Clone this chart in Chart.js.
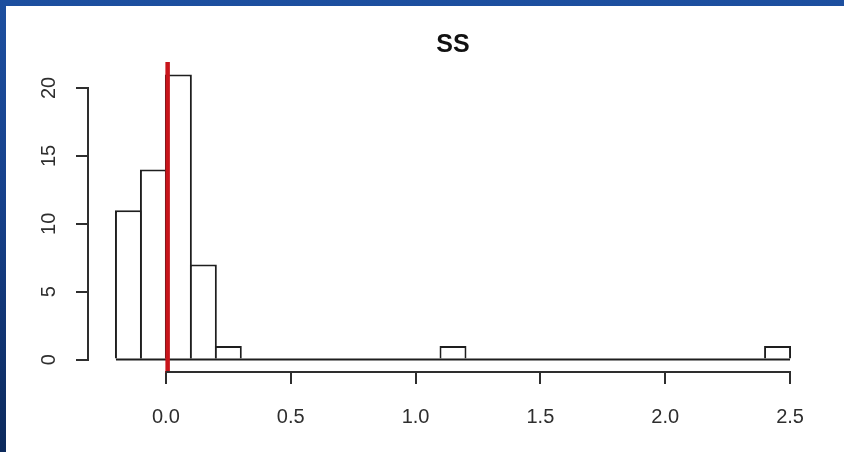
<!DOCTYPE html>
<html>
<head>
<meta charset="utf-8">
<title>SS</title>
<script src="https://cdn.jsdelivr.net/npm/chart.js@4.4.1/dist/chart.umd.min.js"></script>
<style>
  html, body { margin: 0; padding: 0; }
  body {
    width: 844px; height: 452px; overflow: hidden; position: relative;
    background: linear-gradient(to bottom, #1d4f9f 0%, #16408a 45%, #0c2a5c 100%);
  }
  #panel { position: absolute; left: 6px; top: 6px; width: 838px; height: 446px; background: #fff; }
</style>
</head>
<body>
<div id="panel"><canvas id="histChart"></canvas></div>
<script>
// histogram data
const binEdges = [-0.2, -0.1, 0.0, 0.1, 0.2, 0.3, 0.4, 0.5, 0.6, 0.7, 0.8, 0.9, 1.0, 1.1,
                  1.2, 1.3, 1.4, 1.5, 1.6, 1.7, 1.8, 1.9, 2.0, 2.1, 2.2, 2.3, 2.4, 2.5];
const binCounts = [11, 14, 21, 7, 1, 0, 0, 0, 0, 0, 0, 0, 0, 1,
                   0, 0, 0, 0, 0, 0, 0, 0, 0, 0, 0, 0, 1];
const xTickValues = [0, 0.5, 1.0, 1.5, 2.0, 2.5];
const yTickValues = [0, 5, 10, 15, 20];
const refLineValues = [0.007];
const chartTitle = 'SS';

const tickFont = { family: '"Liberation Sans", Arial, sans-serif', size: 20 };
const inkColor = '#2e2e2e';

// bars sit at bin centres
const barData = binCounts.map((c, i) => ({ x: (binEdges[i] + binEdges[i + 1]) / 2, y: c }));
const baseData = [{ x: binEdges[0], y: 0 }, { x: binEdges[binEdges.length - 1], y: 0 }];

// red reference line + R style axis lines (only across the tick range)
const axisLinesPlugin = {
  id: 'axisLines',
  afterDraw(chart) {
    const { ctx, chartArea } = chart;
    const x = chart.scales.x, y = chart.scales.y;
    ctx.save();
    ctx.strokeStyle = '#c8151b';
    ctx.lineWidth = 4.5;
    refLineValues.forEach(v => {
      const px = x.getPixelForValue(v);
      ctx.beginPath();
      ctx.moveTo(px, chartArea.top - 1);
      ctx.lineTo(px, chartArea.bottom + 2);
      ctx.stroke();
    });

    ctx.strokeStyle = inkColor;
    ctx.lineWidth = 2;
    ctx.beginPath();
    ctx.moveTo(x.getPixelForValue(xTickValues[0]), chartArea.bottom + 1);
    ctx.lineTo(x.getPixelForValue(xTickValues[xTickValues.length - 1]), chartArea.bottom + 1);
    ctx.moveTo(chartArea.left - 1, y.getPixelForValue(yTickValues[0]));
    ctx.lineTo(chartArea.left - 1, y.getPixelForValue(yTickValues[yTickValues.length - 1]));
    ctx.stroke();
    ctx.restore();
  }
};

const ctx = document.getElementById('histChart').getContext('2d');
new Chart(ctx, {
  type: 'bar',
  data: {
    datasets: [{
      type: 'bar',
      data: barData,
      backgroundColor: '#fff',
      borderColor: '#1e1e1e',
      borderWidth: 2,
      borderSkipped: 'start',
      barPercentage: 1.08,
      categoryPercentage: 1,
      order: 2
    }, {
      type: 'line',
      data: baseData,
      borderColor: '#1e1e1e',
      borderWidth: 2,
      pointRadius: 0,
      fill: false,
      order: 1
    }]
  },
  options: {
    responsive: true,
    maintainAspectRatio: false,
    animation: false,
    layout: { padding: { left: 0, right: 27, top: 0, bottom: 0 } },
    plugins: {
      legend: { display: false },
      tooltip: { enabled: false },
      title: {
        display: true,
        text: chartTitle,
        fullSize: false,
        color: '#111',
        font: { family: '"Liberation Sans", Arial, sans-serif', size: 25, weight: 'bold' },
        padding: { top: 24, bottom: 3 }
      }
    },
    scales: {
      x: {
        type: 'linear',
        min: -0.308,
        max: 2.608,
        offset: false,
        afterBuildTicks: s => { s.ticks = xTickValues.map(v => ({ value: v })); },
        afterFit: s => { s.height = 81; },
        ticks: {
          color: inkColor,
          font: tickFont,
          padding: 21,
          maxRotation: 0,
          autoSkip: false,
          callback: v => Number(v).toFixed(1)
        },
        grid: { offset: false, drawOnChartArea: false, drawTicks: true, tickLength: 13, color: inkColor, lineWidth: 2 },
        border: { display: false }
      },
      y: {
        min: -0.84,
        max: 21.84,
        afterBuildTicks: s => { s.ticks = yTickValues.map(v => ({ value: v })); },
        afterFit: s => { s.width = 83; },
        ticks: {
          color: inkColor,
          font: tickFont,
          padding: 15,
          minRotation: 90,
          maxRotation: 90,
          crossAlign: 'center',
          autoSkip: false,
          callback: v => String(v)
        },
        grid: { drawOnChartArea: false, drawTicks: true, tickLength: 13, color: inkColor, lineWidth: 2 },
        border: { display: false }
      }
    }
  },
  plugins: [axisLinesPlugin]
});
</script>
</body>
</html>
